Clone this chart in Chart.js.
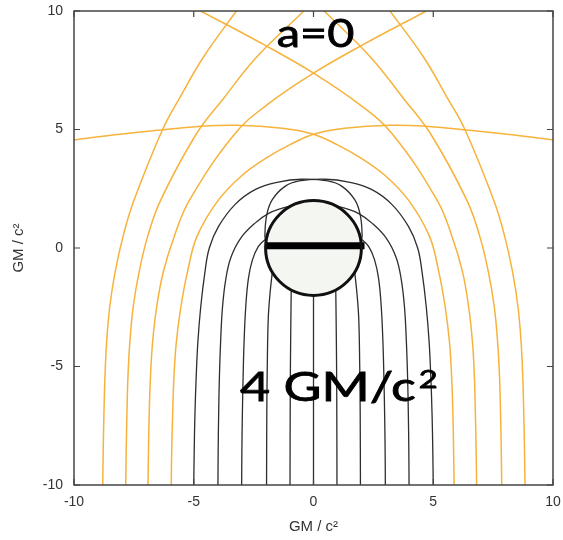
<!DOCTYPE html>
<html><head><meta charset="utf-8">
<script src="https://cdn.jsdelivr.net/npm/chart.js@4/dist/chart.umd.min.js"></script>
<style>html,body{margin:0;padding:0;background:#fff;}canvas{display:block}</style>
</head><body>
<canvas id="c" width="563" height="540"></canvas>
<script>
const X_MIN=-10, X_MAX=10, Y_MIN=-10, Y_MAX=10;
const TICKS=[-10,-5,0,5,10];
const AXIS_TITLE='GM / c²';
const SPIN_LABEL='a=0';
const SCALE_LABEL='4 GM/c';
const SCALE_SUP='2';
const HORIZON_R=2;
const DISK=[{x:-1.97,y:0.1},{x:2.13,y:0.1}];

// escaping rays (orange), entering from the lower left
const O9L=[[-8.80,-10],[-8.78,-8.5],[-8.75,-7],[-8.71,-5.5],[-8.64,-4],[-8.51,-2.5],[-8.28,-1],[-7.95,0.5],[-7.50,2],[-6.31,4.98],[-5.55,6.4],[-4.6,8.05],[-3.15,10.1]];
const O8L=[[-7.84,-10],[-7.82,-8.5],[-7.79,-7],[-7.75,-5.5],[-7.67,-4],[-7.53,-2.5],[-7.28,-1],[-6.92,0.5],[-6.39,2],[-4.9,4.8],[-3.74,6.33],[-2.41,8.02],[-0.40,10]];
const O7L=[[-6.91,-10],[-6.89,-8.5],[-6.86,-7],[-6.81,-5.5],[-6.72,-4],[-6.55,-2.5],[-6.27,-1],[-5.81,0.5],[-5.19,2],[-3.3,4.8],[-1.93,6.05],[0,7.38],[2.07,8.58],[4.71,10]];
const O6L=[[-5.94,-10],[-5.92,-8.5],[-5.88,-7],[-5.83,-5.5],[-5.73,-4],[-5.54,-2.5],[-5.26,-1],[-4.86,0.5],[-3.99,2],[-3.0,3.05],[-2.0,3.78],[-1.0,4.35],[0,4.8],[1.3,5.05],[3.2,5.18],[4.8,5.13],[6.5,4.97],[8.3,4.78],[10,4.56]];
// escaping rays (orange), entering from the lower right
const O9R=[[8.83,-10],[8.81,-8.5],[8.78,-7],[8.74,-5.5],[8.67,-4],[8.54,-2.5],[8.31,-1],[7.98,0.5],[7.53,2],[6.33,4.98],[5.55,6.4],[4.6,8.05],[3.12,10.1]];
const O8R=[[7.86,-10],[7.84,-8.5],[7.81,-7],[7.77,-5.5],[7.69,-4],[7.55,-2.5],[7.3,-1],[6.94,0.5],[6.41,2],[4.9,4.8],[3.74,6.33],[2.41,8.02],[0.45,10]];
const O7R=[[6.81,-10],[6.79,-8.5],[6.76,-7],[6.72,-5.5],[6.64,-4],[6.48,-2.5],[6.22,-1],[5.78,0.5],[5.17,2],[3.3,4.8],[1.93,6.05],[0,7.38],[-2.07,8.58],[-4.71,10]];
const O6R=[[5.87,-10],[5.85,-8.5],[5.82,-7],[5.77,-5.5],[5.68,-4],[5.5,-2.5],[5.23,-1],[4.84,0.5],[3.98,2],[3.0,3.05],[2.0,3.78],[1.0,4.35],[0,4.8],[-1.3,5.05],[-3.2,5.18],[-4.8,5.13],[-6.5,4.97],[-8.3,4.78],[-10,4.56]];

// captured rays (black)
const B5L=[[-5.0,-10],[-4.98,-8.5],[-4.95,-7],[-4.9,-5.5],[-4.83,-4],[-4.71,-2.5],[-4.53,-1],[-4.35,0],[-3.97,0.9],[-3.28,1.83],[-2.44,2.46],[-1.47,2.78],[-0.49,2.9],[0.6,2.83],[1.19,2.6],[1.72,2.04],[1.95,1.41],[2.03,0.56],[2.0,0.3]];
const B4L=[[-3.99,-10],[-3.98,-8.5],[-3.96,-7],[-3.93,-5.5],[-3.88,-4],[-3.80,-2.5],[-3.66,-1.3],[-3.45,-0.4],[-3.05,0.4],[-2.44,1.05],[-1.89,1.45],[-1.3,1.68],[-0.9,1.78]];
const B3L=[[-3.0,-10],[-2.99,-8.5],[-2.97,-7],[-2.94,-5.5],[-2.9,-4],[-2.83,-2.5],[-2.72,-1.3],[-2.55,-0.5],[-2.3,0.07],[-1.97,0.4]];
const B2L=[[-1.96,-10],[-1.95,-7],[-1.93,-5],[-1.89,-3],[-1.82,-1.97],[-1.72,-1.02]];
const B1L=[[-0.98,-10],[-0.97,-6],[-0.95,-3.5],[-0.93,-1.77]];
const B0=[[0,-10],[0,-2]];
const B1R=[[0.98,-10],[0.97,-6],[0.95,-3.5],[0.93,-1.77]];
const B2R=[[1.96,-10],[1.95,-7],[1.93,-5],[1.89,-3],[1.82,-1.97],[1.72,-1.02]];
const B3R=[[3.0,-10],[2.99,-8.5],[2.97,-7],[2.94,-5.5],[2.9,-4],[2.83,-2.5],[2.72,-1.3],[2.55,-0.5],[2.3,0.07],[1.97,0.4]];
const B4R=[[3.99,-10],[3.98,-8.5],[3.96,-7],[3.93,-5.5],[3.88,-4],[3.80,-2.5],[3.66,-1.3],[3.45,-0.4],[3.05,0.4],[2.44,1.05],[1.89,1.45],[1.3,1.68],[0.9,1.78]];
const B5R=[[5.0,-10],[4.98,-8.5],[4.95,-7],[4.9,-5.5],[4.83,-4],[4.71,-2.5],[4.53,-1],[4.35,0],[3.97,0.9],[3.28,1.83],[2.44,2.46],[1.47,2.78],[0.49,2.9],[-0.6,2.83],[-1.19,2.6],[-1.72,2.04],[-1.95,1.41],[-2.03,0.56],[-2.0,0.3]];

const ORANGE='#f7b23b', BLACK='#2e2e2e';
const pts=a=>a.map(p=>({x:p[0],y:p[1]}));
function ray(a,color,w){return {data:pts(a),showLine:true,pointRadius:0,borderColor:color,borderWidth:w,tension:0.4,fill:false};}
const datasets=[
  ...[O9L,O8L,O7L,O6L,O9R,O8R,O7R,O6R].map(a=>ray(a,ORANGE,1.5)),
  ...[B5L,B4L,B3L,B2L,B1L,B0,B1R,B2R,B3R,B4R,B5R].map(a=>ray(a,BLACK,1.3)),
  {data:DISK,showLine:true,pointRadius:0,borderColor:'#000',borderWidth:7,tension:0,borderCapStyle:'butt'}
];

const decor={id:'decor',
  beforeDatasetsDraw(ch){
    const {ctx,scales:{x,y}}=ch;
    const cx=x.getPixelForValue(0), cy=y.getPixelForValue(0);
    const rx=Math.abs(x.getPixelForValue(HORIZON_R)-cx), ry=Math.abs(y.getPixelForValue(HORIZON_R)-cy);
    ctx.save();ctx.beginPath();ctx.ellipse(cx,cy,rx,ry,0,0,Math.PI*2);ctx.fillStyle='#f4f6f2';ctx.fill();ctx.restore();
  },
  afterDatasetsDraw(ch){
    const {ctx,chartArea:ca,scales:{x,y}}=ch;
    const cx=x.getPixelForValue(0), cy=y.getPixelForValue(0);
    const rx=Math.abs(x.getPixelForValue(HORIZON_R)-cx), ry=Math.abs(y.getPixelForValue(HORIZON_R)-cy);
    ctx.save();
    ctx.beginPath();ctx.ellipse(cx,cy,rx,ry,0,0,Math.PI*2);ctx.strokeStyle='#111';ctx.lineWidth=3;ctx.stroke();
    ctx.strokeStyle='#444';ctx.lineWidth=1.5;
    ctx.strokeRect(ca.left,ca.top,ca.right-ca.left,ca.bottom-ca.top);
    ctx.lineWidth=1.2;ctx.beginPath();
    TICKS.forEach(v=>{
      const px=x.getPixelForValue(v), py=y.getPixelForValue(v);
      ctx.moveTo(px,ca.bottom);ctx.lineTo(px,ca.bottom-6);
      ctx.moveTo(px,ca.top);ctx.lineTo(px,ca.top+6);
      ctx.moveTo(ca.left,py);ctx.lineTo(ca.left+6,py);
      ctx.moveTo(ca.right,py);ctx.lineTo(ca.right-6,py);
    });
    ctx.stroke();ctx.restore();
  },
  afterDraw(ch){
    const ctx=ch.ctx;
    function fit(text,font,left,right,base){
      ctx.save();ctx.font=font;ctx.textAlign='left';ctx.textBaseline='alphabetic';
      const m=ctx.measureText(text);const w=m.actualBoundingBoxLeft+m.actualBoundingBoxRight;
      const s=(right-left)/w;ctx.translate(left,base);ctx.scale(s,1);ctx.fillStyle='#000';ctx.strokeStyle='#000';ctx.lineWidth=0.8;
      ctx.fillText(text,m.actualBoundingBoxLeft,0);ctx.strokeText(text,m.actualBoundingBoxLeft,0);ctx.restore();
    }
    fit(SPIN_LABEL,'38px Lato',278,353,47);
    fit(SCALE_LABEL,'41px Lato',240,415,400.5);
    fit(SCALE_SUP,'25px Lato',420,437,388);
  }
};

const tickFont={family:'Liberation Sans, Arial, sans-serif',size:14};
function axis(isX){
  return {type:'linear',min:isX?X_MIN:Y_MIN,max:isX?X_MAX:Y_MAX,
    afterBuildTicks(s){s.ticks=TICKS.map(v=>({value:v}));},
    afterFit(s){ if(isX){ s.height=55; s.paddingLeft=0; s.paddingRight=0; } else { s.width=74; s.paddingTop=0; s.paddingBottom=0; } },
    ticks:{font:tickFont,color:'#333',padding:isX?9:11,maxRotation:0,autoSkip:false,callback:v=>String(v)},
    grid:{display:false,drawTicks:false},border:{display:false},
    title:{display:true,text:AXIS_TITLE,color:'#333',font:{family:'Liberation Sans, Arial, sans-serif',size:15},padding:isX?{top:0,bottom:4}:{top:10,bottom:0}}
  };
}

new Chart(document.getElementById('c'),{
  type:'scatter',
  data:{datasets},
  options:{responsive:false,animation:false,
    layout:{padding:{top:11,right:10,left:0,bottom:0}},
    plugins:{legend:{display:false},tooltip:{enabled:false}},
    scales:{x:axis(true),y:axis(false)}
  },
  plugins:[decor]
});
</script>
</body></html>
